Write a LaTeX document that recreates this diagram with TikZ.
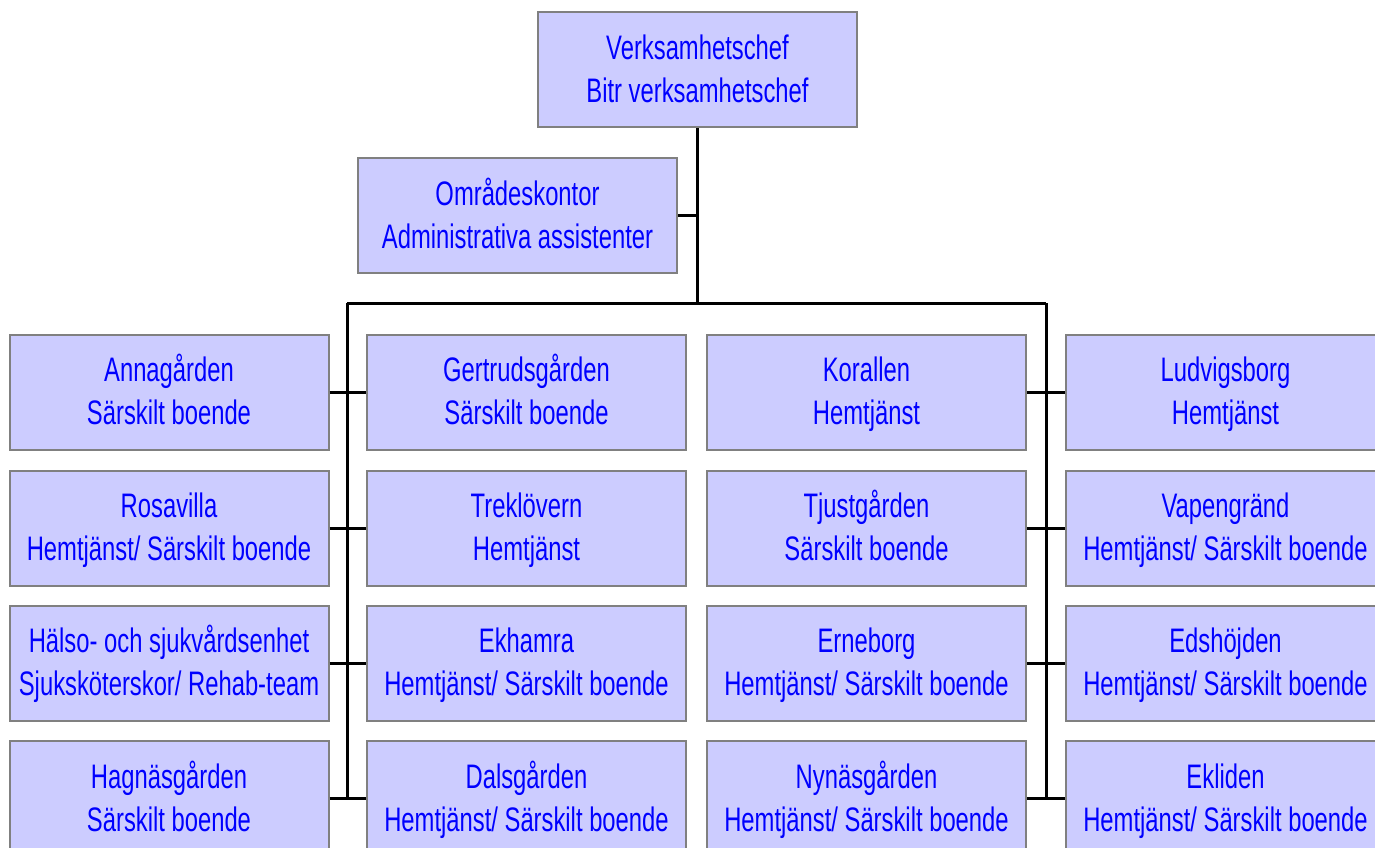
\documentclass[tikz,border=0pt]{standalone}
\usepackage{fontspec}
\setmainfont[FakeStretch=0.7]{Liberation Sans}
\usepackage{xcolor}
\usepackage{tikz}

\definecolor{boxfill}{RGB}{204,204,255}
\definecolor{boxline}{RGB}{128,128,128}
\definecolor{boxtext}{RGB}{0,0,255}

\begin{document}
\begin{tikzpicture}[x=1pt,y=-1pt]
			\tikzstyle{unit} = [draw=boxline, line width=2pt, fill=boxfill, text=boxtext, align=center, minimum width=319pt, minimum height=115pt, inner sep=0pt, text height=75pt, text depth=10pt, font=\fontsize{34}{43}\selectfont]
			\tikzset{edge/.style = {draw=black, line width=3pt}}
			
			\useasboundingbox (0,0) rectangle (1375,847);
			\clip (0,0) rectangle (1375,847);
			
			\node[unit](chef) at (697.5,69.5) {Verksamhetschef\\Bitr verksamhetschef};
			\node[unit](kontor) at (517.5,215.5) {Områdeskontor\\Administrativa assistenter};
			
			% first two columns
			\node[unit](anna) at (169,392) {Annagården\\Särskilt boende};
			\node[unit](rosa) at (169,528) {Rosavilla\\Hemtjänst/ Särskilt boende};
			\node[unit](halso) at (169,663) {Hälso- och sjukvårdsenhet\\Sjuksköterskor/ Rehab-team};
			\node[unit](hagnas) at (169,798.5) {Hagnäsgården\\Särskilt boende};
			\node[unit](gert) at (526.5,392) {Gertrudsgården\\Särskilt boende};
			\node[unit](trek) at (526.5,528) {Treklövern\\Hemtjänst};
			\node[unit](ekh) at (526.5,663) {Ekhamra\\Hemtjänst/ Särskilt boende};
			\node[unit](dals) at (526.5,798.5) {Dalsgården\\Hemtjänst/ Särskilt boende};
			
			% last two columns
			\node[unit](koral) at (866.5,392) {Korallen\\Hemtjänst};
			\node[unit](tjust) at (866.5,528) {Tjustgården\\Särskilt boende};
			\node[unit](erne) at (866.5,663) {Erneborg\\Hemtjänst/ Särskilt boende};
			\node[unit](nynas) at (866.5,798.5) {Nynäsgården\\Hemtjänst/ Särskilt boende};
			\node[unit](ludv) at (1225.5,392) {Ludvigsborg\\Hemtjänst};
			\node[unit](vapen) at (1225.5,528) {Vapengränd\\Hemtjänst/ Särskilt boende};
			\node[unit](edsh) at (1225.5,663) {Edshöjden\\Hemtjänst/ Särskilt boende};
			\node[unit](eklid) at (1225.5,798.5) {Ekliden\\Hemtjänst/ Särskilt boende};
			
			\coordinate(bus) at (697.5,303);
			\coordinate(busL) at (347,303);
			\coordinate(busR) at (1046,303);
			\coordinate(endL) at (347,798.5);
			\coordinate(endR) at (1046,798.5);
			
			\draw[edge](chef) -- (bus);
			\draw[edge](kontor.east) -- (kontor.east -| chef.south);
			\draw[edge](busL) -- (busR);
			\draw[edge](busL) -- (endL);
			\draw[edge](busR) -- (endR);
			
			\draw[edge](anna) -- (gert);
			\draw[edge](rosa) -- (trek);
			\draw[edge](halso) -- (ekh);
			\draw[edge](hagnas) -- (dals);
			\draw[edge](koral) -- (ludv);
			\draw[edge](tjust) -- (vapen);
			\draw[edge](erne) -- (edsh);
			\draw[edge](nynas) -- (eklid);
			
			\end{tikzpicture}
\end{document}
